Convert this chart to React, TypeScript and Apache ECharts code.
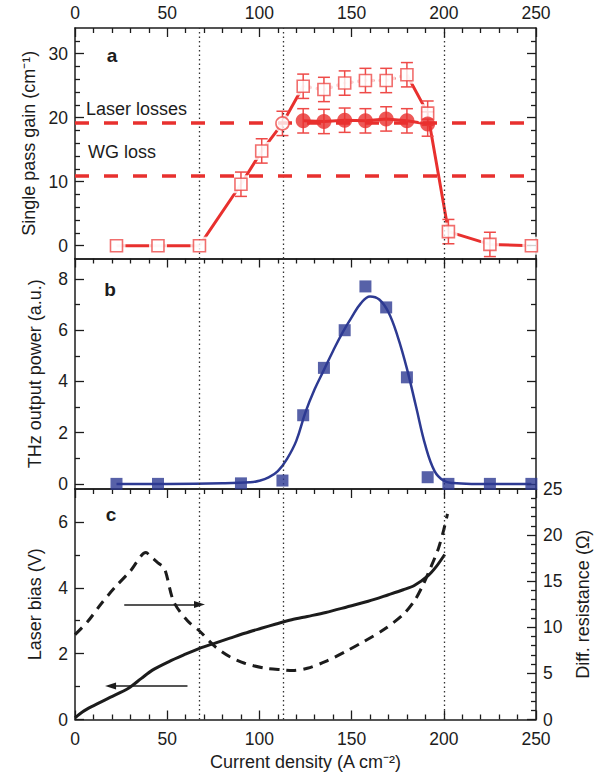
import React, { useEffect, useRef } from "react";
import * as echarts from "echarts";

// ---------- data ----------
const xMajorTicks = [0, 50, 100, 150, 200, 250];
const xMinorTicks = [10, 20, 30, 40, 60, 70, 80, 90, 110, 120, 130, 140, 160, 170, 180, 190, 210, 220, 230, 240];
const thresholdLines = [67.5, 113, 200];

// panel a: single pass gain (open squares / open circle at threshold)
const gainX = [22.5, 45, 67.5, 90, 101.25, 112.5, 123.75, 135, 146.25, 157.5, 168.75, 180, 191.25, 202.5, 225, 247.5];
const gainY = [0, 0, 0, 9.6, 14.8, 19.1, 24.9, 24.4, 25.4, 25.8, 25.8, 26.7, 20.7, 2.2, 0.2, 0];
const gainErr = [0, 0, 0, 1.9, 1.9, 1.9, 1.9, 1.9, 1.9, 1.9, 1.9, 1.9, 1.9, 1.9, 1.9, 0];
const thresholdIndex = 5;
// panel a: laser gain (filled circles)
const laserX = [123.75, 135, 146.25, 157.5, 168.75, 180, 191.25];
const laserY = [19.5, 19.4, 19.6, 19.5, 19.8, 19.5, 19.0];
const laserErr = [1.9, 1.9, 1.9, 1.9, 1.9, 1.9, 1.9];
const laserLoss = 19.2;
const wgLoss = 10.9;
const gainMajorTicks = [0, 10, 20, 30];
const gainMinorTicks = [2, 4, 6, 8, 12, 14, 16, 18, 22, 24, 26, 28, 32];

// panel b: THz output power
const thzX = [22.5, 45, 90, 112.5, 123.75, 135, 146.25, 157.5, 168.75, 180, 191.25, 202.5, 225, 247.5];
const thzY = [0, 0, 0.02, 0.13, 2.68, 4.53, 6.0, 7.71, 6.89, 4.16, 0.26, 0, 0, 0];
const fitX = [22.5, 50, 80, 95, 100, 105, 110, 115, 120, 125, 130, 135, 140, 145, 150, 155, 160, 165, 170, 175, 180, 185, 190, 195, 200, 205, 215, 247.5];
const fitY = [0, 0, 0.02, 0.06, 0.12, 0.25, 0.5, 0.98, 1.68, 2.8, 3.7, 4.45, 5.2, 5.9, 6.5, 7.05, 7.32, 7.2, 6.7, 5.75, 4.5, 3.0, 1.5, 0.5, 0.12, 0.03, 0, 0];
const thzMajorTicks = [0, 2, 4, 6, 8];
const thzMinorTicks = [1, 3, 5, 7];

// panel c: laser bias (V) and differential resistance (ohm)
const biasX = [0, 4, 9, 19, 29, 36, 42, 51, 59, 67.5, 76, 84, 92, 101, 109, 117.5, 126, 136, 147, 159, 170, 178, 184, 191.5, 196, 200.5];
const biasY = [0.05, 0.23, 0.39, 0.67, 0.95, 1.25, 1.5, 1.76, 1.96, 2.16, 2.32, 2.47, 2.62, 2.77, 2.9, 3.03, 3.13, 3.25, 3.41, 3.59, 3.79, 3.94, 4.07, 4.37, 4.65, 5.01];
const resX = [0, 7, 14, 21.5, 30, 38.5, 41, 45, 48.5, 53.5, 61, 67.5, 76, 84, 92, 103, 113, 118, 126, 136, 147, 157, 167.5, 178, 184, 188.5, 192.5, 197, 200, 202];
const resY = [9.2, 10.65, 12.5, 14.3, 16.1, 18.1, 17.7, 17.0, 16.4, 12.8, 10.7, 9.6, 7.9, 6.8, 6.1, 5.56, 5.38, 5.31, 5.56, 6.3, 7.4, 8.5, 9.75, 11.4, 12.85, 14.5, 16.3, 18.5, 20.6, 22.3];
const biasMajorTicks = [0, 2, 4, 6];
const biasMinorTicks = [1, 3, 5];
const resMajorTicks = [0, 5, 10, 15, 20];
const resMinorTicks = [1, 2, 3, 4, 6, 7, 8, 9, 11, 12, 13, 14, 16, 17, 18, 19, 21, 22, 23, 24];
const resLabels = [0, 5, 10, 15, 20, 25];
const arrowRight = [[26.7, 3.49], [67.5, 3.49]];
const arrowLeft = [[61, 1.02], [19.3, 1.02]];

// axis ranges
const X_RANGE = [0, 250];
const GAIN_RANGE = [-2, 34];
const THZ_RANGE = [-0.2, 8.8];
const BIAS_RANGE = [0, 7];
const RES_RANGE = [0, 25];

// ---------- styles ----------
const FONT = "'Liberation Sans', Arial, Helvetica, sans-serif";
const INK = "#1c1c1c";
const RED = "#e8302e";
const RED_LIGHT = "#ee4a48";
const BLUE = "#2d3a92";
const TICK_FS = 17.5;
const NAME_FS = 18;
const MAJOR_LEN = 9;
const MINOR_LEN = 5;

const GRID_LEFT = 75;
const GRID_W = 461;
const tops = [28, 258.5, 489];
const GRID_H = 230.5;

const zip = (xs: number[], ys: number[]) => xs.map((x, i) => [x, ys[i]]);

const axisLineStyle = { color: INK, width: 1.5 };

function xAxisDef(gridIndex: number, position: string, labels: boolean, extra: any = {}) {
  return {
    type: "value",
    gridIndex,
    position,
    min: X_RANGE[0],
    max: X_RANGE[1],
    interval: 50,
    axisLine: { show: true, onZero: false, lineStyle: axisLineStyle },
    axisTick: { show: false },
    minorTick: { show: false },
    axisLabel: { show: labels, fontSize: TICK_FS, color: INK, fontFamily: FONT, margin: position === "top" ? 6 : 10 },
    splitLine: { show: false },
    ...extra,
  };
}

function yAxisDef(gridIndex: number, position: string, range: number[], labels: number[] | null, extra: any = {}) {
  return {
    type: "value",
    gridIndex,
    position,
    min: range[0],
    max: range[1],
    axisLine: { show: true, onZero: false, lineStyle: axisLineStyle },
    axisTick: { show: false },
    minorTick: { show: false },
    axisLabel: labels
      ? { show: true, customValues: labels, fontSize: TICK_FS, color: INK, fontFamily: FONT, margin: 7 }
      : { show: false },
    splitLine: { show: false },
    ...extra,
  };
}

const yName = (name: string, gap: number) => ({
  name,
  nameLocation: "middle",
  nameGap: gap,
  nameRotate: 90,
  nameTextStyle: { fontSize: NAME_FS, color: INK, fontFamily: FONT },
});

const verticalMarks = () => ({
  silent: true,
  symbol: "none",
  label: { show: false },
  lineStyle: { color: "#333", width: 1.3, type: [1.5, 3] },
  data: thresholdLines.map((v) => ({ xAxis: v })),
});

// ---- tick segments, drawn as markLine segments through the axes' scales ----
// x ticks along a horizontal edge; dir = -1 goes down from the top edge, +1 goes up from the bottom edge
function xTickSegs(yEdge: number, yRange: number[], dir: number) {
  const unit = (yRange[1] - yRange[0]) / GRID_H;
  const seg = (v: number, len: number) => [{ coord: [v, yEdge] }, { coord: [v, yEdge + dir * len * unit] }];
  return [...xMajorTicks.map((v) => seg(v, MAJOR_LEN)), ...xMinorTicks.map((v) => seg(v, MINOR_LEN))];
}
// y ticks along a vertical edge; dir = +1 goes right from the left edge, -1 goes left from the right edge
function yTickSegs(major: number[], minor: number[], xEdge: number, dir: number) {
  const unit = (X_RANGE[1] - X_RANGE[0]) / GRID_W;
  const seg = (v: number, len: number) => [{ coord: [xEdge, v] }, { coord: [xEdge + dir * len * unit, v] }];
  return [...major.map((v) => seg(v, MAJOR_LEN)), ...minor.map((v) => seg(v, MINOR_LEN))];
}

function tickCarrier(xAxisIndex: number, yAxisIndex: number, yRange: number[], segs: any[]) {
  return {
    type: "line",
    xAxisIndex,
    yAxisIndex,
    data: [[X_RANGE[0], yRange[0]]],
    symbol: "none",
    showSymbol: false,
    lineStyle: { opacity: 0, width: 0 },
    silent: true,
    z: 10,
    markLine: {
      silent: true,
      symbol: "none",
      label: { show: false },
      lineStyle: { color: INK, width: 1.3, type: "solid", opacity: 1 },
      emphasis: { disabled: true },
      data: segs,
    },
  };
}

function errorBars(color: string) {
  return (params: any, api: any) => {
    const x = api.value(0);
    const y = api.value(1);
    const e = api.value(2);
    if (!e) return { type: "group", children: [] };
    const top = api.coord([x, y + e]);
    const bot = api.coord([x, y - e]);
    const cap = 6;
    const style = { stroke: color, lineWidth: 1.5, fill: null };
    return {
      type: "group",
      children: [
        { type: "line", shape: { x1: top[0], y1: top[1], x2: bot[0], y2: bot[1] }, style },
        { type: "line", shape: { x1: top[0] - cap, y1: top[1], x2: top[0] + cap, y2: top[1] }, style },
        { type: "line", shape: { x1: bot[0] - cap, y1: bot[1], x2: bot[0] + cap, y2: bot[1] }, style },
      ],
    };
  };
}

function buildOption() {
  const gainPts = zip(gainX, gainY);
  const squarePts = gainPts.filter((_, i) => i !== thresholdIndex);
  const errData = [
    ...gainX.map((x, i) => [x, gainY[i], gainErr[i]]),
    ...laserX.map((x, i) => [x, laserY[i], laserErr[i]]),
  ];

  return {
    animation: false,
    grid: tops.map((t) => ({ left: GRID_LEFT, top: t, width: GRID_W, height: GRID_H })),
    xAxis: [
      xAxisDef(0, "top", true),
      xAxisDef(0, "bottom", false),
      xAxisDef(1, "top", false),
      xAxisDef(1, "bottom", false),
      xAxisDef(2, "top", false),
      xAxisDef(2, "bottom", true, {
        name: "Current density (A cm⁻²)",
        nameLocation: "middle",
        nameGap: 33,
        nameTextStyle: { fontSize: NAME_FS, color: INK, fontFamily: FONT },
      }),
    ],
    yAxis: [
      yAxisDef(0, "left", GAIN_RANGE, gainMajorTicks, yName("Single pass gain (cm⁻¹)", 31)),
      yAxisDef(0, "right", GAIN_RANGE, null),
      yAxisDef(1, "left", THZ_RANGE, thzMajorTicks, yName("THz output power (a.u.)", 31)),
      yAxisDef(1, "right", THZ_RANGE, null),
      yAxisDef(2, "left", BIAS_RANGE, biasMajorTicks, yName("Laser bias (V)", 31)),
      yAxisDef(2, "right", RES_RANGE, resLabels, yName("Diff. resistance (Ω)", 38)),
    ],
    series: [
      // ----- panel a -----
      {
        type: "line",
        xAxisIndex: 0,
        yAxisIndex: 0,
        data: gainPts.slice(0, 7),
        symbol: "none",
        lineStyle: { color: RED, width: 3 },
        z: 2,
        markLine: verticalMarks(),
      },
      {
        type: "line",
        xAxisIndex: 0,
        yAxisIndex: 0,
        data: gainPts.slice(6, 12),
        symbol: "none",
        lineStyle: { color: RED, width: 3.5, type: [0.1, 7], cap: "round" },
        z: 2,
      },
      {
        type: "line",
        xAxisIndex: 0,
        yAxisIndex: 0,
        data: gainPts.slice(11),
        symbol: "none",
        lineStyle: { color: RED, width: 3 },
        z: 2,
      },
      {
        type: "line",
        xAxisIndex: 0,
        yAxisIndex: 0,
        data: zip(laserX, laserY),
        symbol: "none",
        lineStyle: { color: RED, width: 3 },
        z: 2,
        markLine: {
          silent: true,
          symbol: "none",
          label: { show: false },
          lineStyle: { color: RED, width: 3.5, type: [14, 15] },
          data: [{ yAxis: laserLoss }, { yAxis: wgLoss }],
        },
      },
      {
        type: "scatter",
        xAxisIndex: 0,
        yAxisIndex: 0,
        data: gainPts.map((p, i) => ({ value: p, symbol: i === thresholdIndex ? "circle" : "rect" })),
        symbolSize: 18,
        itemStyle: { color: "#ffffff" },
        z: 3,
        silent: true,
      },
      {
        type: "custom",
        xAxisIndex: 0,
        yAxisIndex: 0,
        data: errData,
        encode: { x: 0, y: 1 },
        renderItem: errorBars(RED_LIGHT),
        z: 4,
        silent: true,
      },
      {
        type: "scatter",
        xAxisIndex: 0,
        yAxisIndex: 0,
        data: squarePts,
        symbol: "rect",
        symbolSize: 12,
        itemStyle: { color: "#ffffff", borderColor: RED_LIGHT, borderWidth: 1.6 },
        z: 5,
      },
      {
        type: "scatter",
        xAxisIndex: 0,
        yAxisIndex: 0,
        data: [gainPts[thresholdIndex]],
        symbol: "circle",
        symbolSize: 13,
        itemStyle: { color: "#ffffff", borderColor: RED_LIGHT, borderWidth: 1.6 },
        z: 5,
      },
      {
        type: "scatter",
        xAxisIndex: 0,
        yAxisIndex: 0,
        data: zip(laserX, laserY),
        symbol: "circle",
        symbolSize: 15,
        itemStyle: { color: RED },
        z: 6,
      },
      // ----- panel b -----
      {
        type: "line",
        xAxisIndex: 2,
        yAxisIndex: 2,
        data: zip(fitX, fitY),
        smooth: 0.4,
        symbol: "none",
        lineStyle: { color: BLUE, width: 2.5 },
        z: 2,
        markLine: verticalMarks(),
      },
      {
        type: "scatter",
        xAxisIndex: 2,
        yAxisIndex: 2,
        data: zip(thzX, thzY),
        symbol: "rect",
        symbolSize: 12,
        itemStyle: { color: BLUE },
        z: 5,
      },
      // ----- panel c -----
      {
        type: "line",
        xAxisIndex: 5,
        yAxisIndex: 4,
        data: zip(biasX, biasY),
        smooth: 0.3,
        symbol: "none",
        lineStyle: { color: INK, width: 3 },
        z: 3,
        markLine: {
          silent: true,
          symbol: ["none", "triangle"],
          symbolSize: [7, 11],
          label: { show: false },
          lineStyle: { color: INK, width: 1.5, type: "solid" },
          itemStyle: { color: INK },
          data: [
            [{ coord: arrowRight[0] }, { coord: arrowRight[1] }],
            [{ coord: arrowLeft[0] }, { coord: arrowLeft[1] }],
          ],
        },
      },
      {
        type: "line",
        xAxisIndex: 5,
        yAxisIndex: 5,
        data: zip(resX, resY),
        smooth: 0.3,
        symbol: "none",
        lineStyle: { color: INK, width: 3, type: [10, 7] },
        z: 3,
        markLine: verticalMarks(),
      },
      // ----- ticks -----
      tickCarrier(0, 0, GAIN_RANGE, [
        ...xTickSegs(GAIN_RANGE[1], GAIN_RANGE, -1),
        ...yTickSegs(gainMajorTicks, gainMinorTicks, X_RANGE[0], 1),
        ...yTickSegs(gainMajorTicks, gainMinorTicks, X_RANGE[1], -1),
      ]),
      tickCarrier(2, 2, THZ_RANGE, [
        ...xTickSegs(THZ_RANGE[1], THZ_RANGE, -1),
        ...yTickSegs(thzMajorTicks, thzMinorTicks, X_RANGE[0], 1),
        ...yTickSegs(thzMajorTicks, thzMinorTicks, X_RANGE[1], -1),
      ]),
      tickCarrier(5, 4, BIAS_RANGE, [
        ...xTickSegs(BIAS_RANGE[1], BIAS_RANGE, -1),
        ...xTickSegs(BIAS_RANGE[0], BIAS_RANGE, 1),
        ...yTickSegs(biasMajorTicks, biasMinorTicks, X_RANGE[0], 1),
      ]),
      tickCarrier(5, 5, RES_RANGE, yTickSegs(resMajorTicks, resMinorTicks, X_RANGE[1], -1)),
    ],
    graphic: [
      { type: "text", x: 112, y: 55, style: { text: "a", fontSize: 19, fontWeight: "bold", fontFamily: FONT, fill: INK, align: "center", verticalAlign: "middle" } },
      { type: "text", x: 110, y: 289, style: { text: "b", fontSize: 19, fontWeight: "bold", fontFamily: FONT, fill: INK, align: "center", verticalAlign: "middle" } },
      { type: "text", x: 111, y: 514, style: { text: "c", fontSize: 19, fontWeight: "bold", fontFamily: FONT, fill: INK, align: "center", verticalAlign: "middle" } },
      { type: "text", x: 86, y: 109, style: { text: "Laser losses", fontSize: NAME_FS, fontFamily: FONT, fill: INK, align: "left", verticalAlign: "middle" } },
      { type: "text", x: 88, y: 152, style: { text: "WG loss", fontSize: NAME_FS, fontFamily: FONT, fill: INK, align: "left", verticalAlign: "middle" } },
    ],
  };
}

export default function App() {
  const ref = useRef<HTMLDivElement>(null);
  useEffect(() => {
    if (!ref.current) return;
    const chart = echarts.init(ref.current, undefined, { renderer: "svg" });
    chart.setOption(buildOption() as any);
    return () => chart.dispose();
  }, []);
  return (
    <div
      ref={ref}
      style={{ position: "absolute", left: 0, top: 0, width: 602, height: 773, background: "#fff" }}
    />
  );
}
